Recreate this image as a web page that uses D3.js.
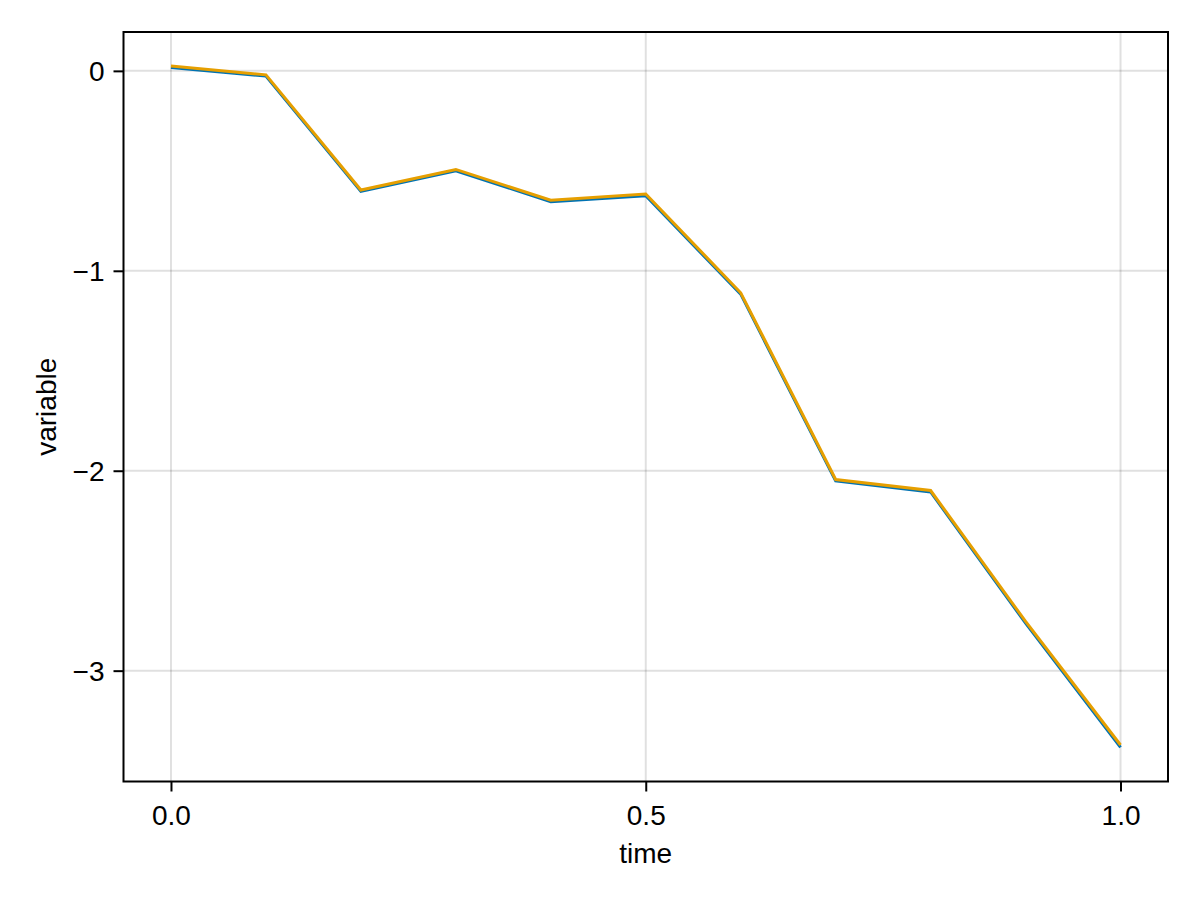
<!doctype html>
<html lang="en">
<head>
<meta charset="utf-8">
<title>variable vs time</title>
<style>
body { margin: 0; background: #fff; font-family: "Liberation Sans", Arial, sans-serif; }
svg { display: block; }
</style>
</head>
<body>
<div id="chart"></div>
<script src="https://d3js.org/d3.v7.min.js"></script>
<script>
// values
var time = [0, 0.1, 0.2, 0.3, 0.4, 0.5, 0.6, 0.7, 0.8, 0.9, 1.0];
var seriesBlue = [0.017, -0.026, -0.603, -0.500, -0.654, -0.625, -1.117, -2.051, -2.106, -2.762, -3.384];
var seriesOrange = [0.024, -0.020, -0.596, -0.493, -0.647, -0.616, -1.110, -2.044, -2.099, -2.754, -3.372];
var xTicks = [0, 0.5, 1.0];
var yTicks = [0, -1, -2, -3];
var seriesColors = ["#0072B2", "#E69F00"];

var width = 1200, height = 900;
var box = {left: 123.5, right: 1168, top: 32, bottom: 781.5};
var fontSize = 28;

var svg = d3.select("#chart").append("svg")
    .attr("width", width)
    .attr("height", height);

// 5% padding on both axes, like the original
function padded(ext) {
    var p = (ext[1] - ext[0]) * 0.05;
    return [ext[0] - p, ext[1] + p];
}

var x = d3.scaleLinear()
    .domain(padded(d3.extent(time)))
    .range([box.left, box.right]);

var y = d3.scaleLinear()
    .domain(padded(d3.extent(seriesBlue.concat(seriesOrange))))
    .range([box.bottom, box.top]);

// grid
var grid = svg.append("g").attr("class", "grid");
grid.selectAll(".gx").data(xTicks).enter().append("line")
    .attr("x1", function(d) { return x(d); })
    .attr("x2", function(d) { return x(d); })
    .attr("y1", box.top)
    .attr("y2", box.bottom)
    .attr("stroke", "rgba(0,0,0,0.12)")
    .attr("stroke-width", 2);
grid.selectAll(".gy").data(yTicks).enter().append("line")
    .attr("x1", box.left)
    .attr("x2", box.right)
    .attr("y1", function(d) { return y(d); })
    .attr("y2", function(d) { return y(d); })
    .attr("stroke", "rgba(0,0,0,0.12)")
    .attr("stroke-width", 2);

// lines
var line = d3.line()
    .x(function(d, i) { return x(time[i]); })
    .y(function(d) { return y(d); });

[seriesBlue, seriesOrange].forEach(function(s, k) {
    svg.append("path")
        .datum(s)
        .attr("fill", "none")
        .attr("stroke", seriesColors[k])
        .attr("stroke-width", 3)
        .attr("stroke-linejoin", "miter")
        .attr("d", line);
});

// frame
svg.append("rect")
    .attr("x", box.left)
    .attr("y", box.top)
    .attr("width", box.right - box.left)
    .attr("height", box.bottom - box.top)
    .attr("fill", "none")
    .attr("stroke", "#000")
    .attr("stroke-width", 2);

// axes
var xAxis = svg.append("g")
    .attr("transform", "translate(0," + box.bottom + ")")
    .call(d3.axisBottom(x).tickValues(xTicks).tickSize(10).tickFormat(d3.format(".1f")));
var yAxis = svg.append("g")
    .attr("transform", "translate(" + box.left + ",0)")
    .call(d3.axisLeft(y).tickValues(yTicks).tickSize(10).tickFormat(d3.format("d")));

[xAxis, yAxis].forEach(function(a) {
    a.select(".domain").remove();
    a.selectAll(".tick line").attr("stroke", "#000").attr("stroke-width", 2);
    a.selectAll(".tick text")
        .attr("fill", "#000")
        .style("font-family", "'Liberation Sans', Arial, sans-serif")
        .style("font-size", fontSize + "px");
});
xAxis.selectAll(".tick text").attr("y", 43.5).attr("dy", null);
yAxis.selectAll(".tick text").attr("x", -19).attr("dy", null).attr("y", 10);

// axis labels
svg.append("text")
    .attr("x", (box.left + box.right) / 2)
    .attr("y", 863)
    .attr("text-anchor", "middle")
    .style("font-size", fontSize + "px")
    .text("time");

svg.append("text")
    .attr("transform", "translate(56," + ((box.top + box.bottom) / 2) + ") rotate(-90)")
    .attr("text-anchor", "middle")
    .style("font-size", fontSize + "px")
    .text("variable");
</script>
</body>
</html>
